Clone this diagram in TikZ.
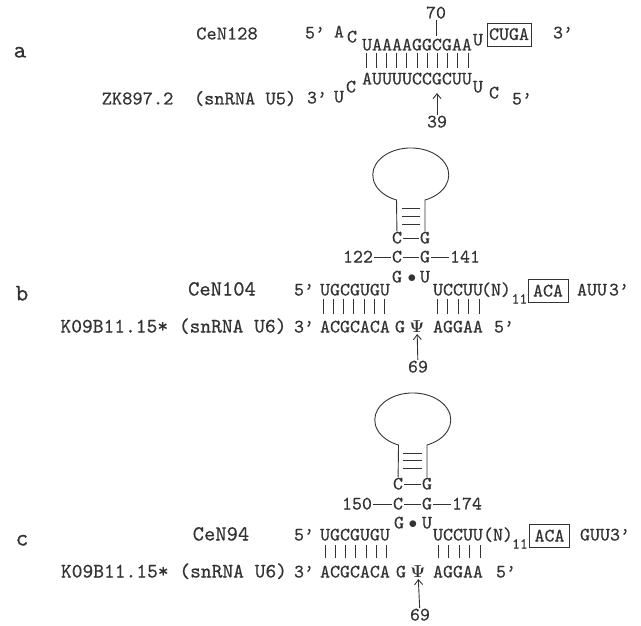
\documentclass[tikz,border=0pt]{standalone}
\usepackage{fontspec}
\usepackage{amsmath}
\usetikzlibrary{arrows.meta}
\newfontfamily\seqfam{lmmono10-regular.otf}[FakeBold=0.5]
\newcommand{\seqfont}{\seqfam\fontsize{19}{19}\selectfont}
\begin{document}
\begin{tikzpicture}[x=1pt, y=-1pt, >={Straight Barb[length=5pt, width=8pt]}, line width=0.9pt, color=black!80,
			lab/.style={inner sep=0pt, outer sep=1.5pt, font=\seqfont, text height=11pt, text depth=0pt},
			labsize/.style={lab, font=\seqfam\fontsize{#1}{#1}\selectfont},
			boxed/.style={lab, draw, outer sep=0pt, inner sep=0pt, minimum height=23pt, minimum width=40pt}]
			\useasboundingbox (0,0) rectangle (641,626);
			% Teil a
			\node[labsize=24] (a) at (20,52) {a};
			\node[labsize=19.5] (cen128) at (227,34) {CeN128};
			\node[labsize=19.5] (zk) at (199,99) {ZK897.2~~(snRNA U5)};
			\node[lab] (a5top) at (315,33) {5’};
			\node[lab] (aA) at (339,32) {A};
			\node[lab] (aC) at (352,37) {C};
			\node[lab] (atop) at (417,45) {UAAAAGGCGAA};
			\node[lab] (aU) at (478,40) {U};
			\node[boxed, minimum width=44pt] (cuga) at (509,34.5) {CUGA};
			\node[lab] (a3top) at (563,33) {3’};
			\node[lab] (n70) at (436,13) {70};
			\coordinate (p70) at (436,36);
			\draw (n70) -- (p70);
			\foreach \x in {0,...,10} \draw ({366+\x*10.2},53) -- ({366+\x*10.2},68);
			\node[lab] (a3low) at (317,98) {3’};
			\node[lab] (aUl) at (339,97) {U};
			\node[lab] (aCl) at (351,87) {C};
			\node[lab] (alow) at (417,79) {AUUUUCCGCUU};
			\node[lab] (aUr) at (478,87) {U};
			\node[lab] (aCr) at (494,93) {C};
			\node[lab] (a5low) at (522,99) {5’};
			\node[lab] (n39) at (437,122) {39};
			\coordinate (p39) at (437,93);
			\draw[->] (n39) -- (p39);
			% Teil b
			\node[labsize=24] (b) at (22,295) {b};
			\node[labsize=21.5] (cen104) at (222,290) {CeN104};
			\node[labsize=20.5] (kb) at (173.5,327) {K09B11.15* (snRNA U6)};
			\coordinate (lbr) at (425,200);
			\coordinate (lbl) at (397,200);
			\node[lab] (bc1) at (397,238) {C};
			\node[lab] (bg1) at (425,238) {G};
			\node[lab] (bc2) at (397,257) {C};
			\node[lab] (bg2) at (425,257) {G};
			\node[lab] (n122) at (358,257) {122};
			\node[lab] (n141) at (465,257) {141};
			\node[lab] (bg3) at (397,277) {G};
			\node[lab] (bdot) at (412,277) {$\bullet$};
			\node[lab] (bu3) at (425,277) {U};
			\draw (bg1) -- (lbr) arc[start angle=-68, end angle=248, x radius=38pt, y radius=27pt] -- (bc1);
			\foreach \y in {208,216,224} \draw (402,\y) -- (420,\y);
			\draw (bc1) -- (bg1);
			\draw (n122) -- (bc2);
			\draw (bc2) -- (bg2);
			\draw (bg2) -- (n141);
			\node[lab] (b5top) at (304,290) {5’};
			\node[lab] (btopl) at (355,290) {UGCGUGU};
			\node[lab] (btopr) at (458,290) {UCCUU};
			\node[lab] (bn) at (496,290) {(N)};
			\node[labsize=15] (bsub) at (519.5,298) {11};
			\node[boxed] (baca) at (548,291) {ACA};
			\node[lab] (bauu) at (592,290) {AUU};
			\node[lab] (b3top) at (619,290) {3’};
			\foreach \x in {0,...,6} \draw ({323+\x*10.3},299) -- ({323+\x*10.3},314);
			\foreach \x in {0,...,4} \draw ({437+\x*10.5},299) -- ({437+\x*10.5},314);
			\node[lab] (b3low) at (304,327) {3’};
			\node[lab] (blowl) at (355,327) {ACGCACA};
			\node[lab] (bg4) at (400,327) {G};
			\node[lab] (bpsi) at (417,327) {$\boldsymbol{\Psi}$};
			\node[lab] (blowr) at (458,327) {AGGAA};
			\node[lab] (b5low) at (504,327) {5’};
			\node[lab] (bn69) at (418,367) {69};
			\draw[->] (bn69) -- (bpsi);
			% Teil c
			\node[labsize=24] (c) at (22,540) {c};
			\node[labsize=21.5] (cen94) at (221,535) {CeN94};
			\node[labsize=20.5] (kc) at (174,572) {K09B11.15* (snRNA U6)};
			\coordinate (lcr) at (427,445);
			\coordinate (lcl) at (399,445);
			\node[lab] (cc1) at (398,484) {C};
			\node[lab] (cg1) at (427,484) {G};
			\node[lab] (cc2) at (398,504) {C};
			\node[lab] (cg2) at (427,504) {G};
			\node[lab] (n150) at (357,504) {150};
			\node[lab] (n174) at (467,504) {174};
			\node[lab] (cg3) at (399,523) {G};
			\node[lab] (cdot) at (413,523) {$\bullet$};
			\node[lab] (cu3) at (427,523) {U};
			\draw (cg1) -- (lcr) arc[start angle=-68, end angle=248, x radius=38pt, y radius=27pt] -- (cc1);
			\foreach \y in {453,460,468} \draw (403,\y) -- (422,\y);
			\draw (cc1) -- (cg1);
			\draw (n150) -- (cc2);
			\draw (cc2) -- (cg2);
			\draw (cg2) -- (n174);
			\node[lab] (c5top) at (304,535) {5’};
			\node[lab] (ctopl) at (355,535) {UGCGUGU};
			\node[lab] (ctopr) at (458,535) {UCCUU};
			\node[lab] (cn) at (498,535) {(N)};
			\node[labsize=15] (csub) at (520,543) {11};
			\node[boxed] (caca) at (549.5,536) {ACA};
			\node[lab] (cguu) at (595,535) {GUU};
			\node[lab] (c3top) at (620,535) {3’};
			\foreach \x in {0,...,6} \draw ({325+\x*10.3},545) -- ({325+\x*10.3},558);
			\foreach \x in {0,...,4} \draw ({438+\x*10.5},545) -- ({438+\x*10.5},558);
			\node[lab] (c3low) at (304,572) {3’};
			\node[lab] (clowl) at (355,572) {ACGCACA};
			\node[lab] (cg4) at (401,572) {G};
			\node[lab] (cpsi) at (418,572) {$\boldsymbol{\Psi}$};
			\node[lab] (clowr) at (458,572) {AGGAA};
			\node[lab] (c5low) at (506,572) {5’};
			\node[lab] (cn69) at (420,615) {69};
			\draw[->] (cn69) -- (cpsi);
		\end{tikzpicture}
\end{document}
